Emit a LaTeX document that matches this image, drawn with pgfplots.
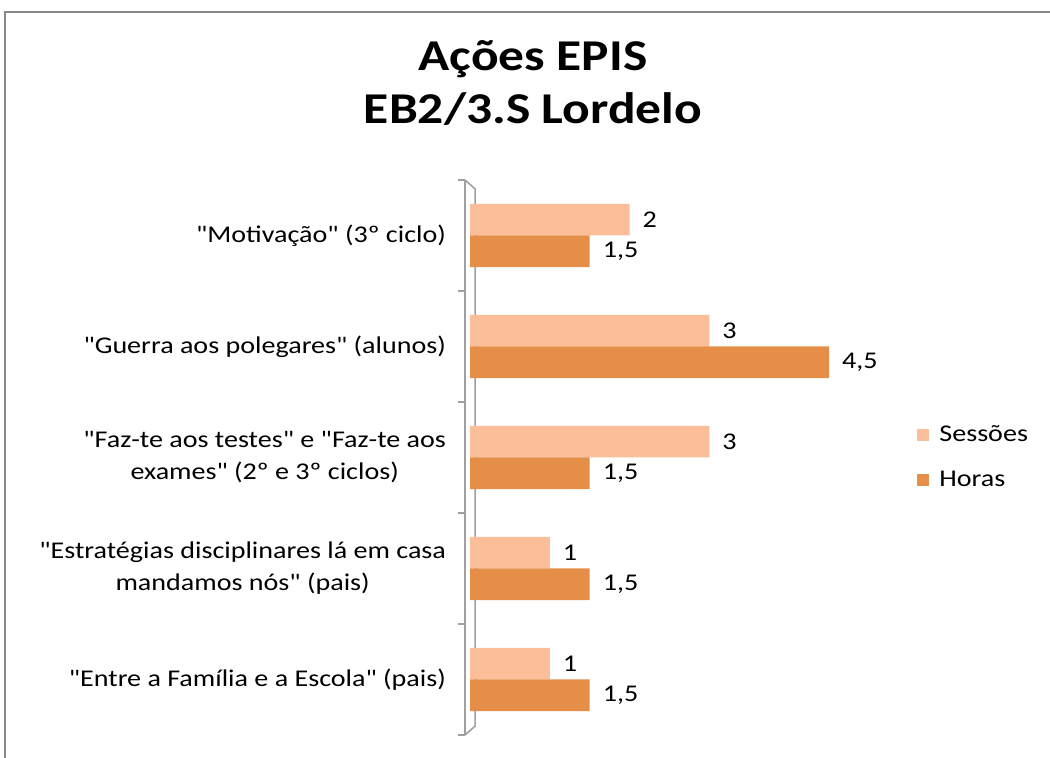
\documentclass[border=0pt]{standalone}
\usepackage{pgfplots}
\pgfplotsset{compat=1.18}
\usepackage{fontspec}
\setmainfont{Carlito}[FakeStretch=1.17, Ligatures=TeXOff]
\definecolor{sess}{HTML}{FBBE98}
\definecolor{hor}{HTML}{E58E48}
\definecolor{framegray}{HTML}{888888}
\definecolor{axgray}{HTML}{A0A0A0}
\begin{document}
\begin{tikzpicture}
\path[use as bounding box] (0pt,0pt) rectangle (525pt,379pt);
\draw[framegray, line width=1pt] (2.5pt,0pt) -- (2.5pt,373pt) -- (525pt,373pt);
\node[align=center, font=\fontsize{22}{26.5}\selectfont\bfseries] at (266.5pt,337.5pt) {Ações EPIS\\EB2/3.S Lordelo};
\begin{axis}[
  at={(232.5pt,11.5pt)}, anchor=south west,
  scale only axis, width=198pt, height=277.5pt,
  xbar=0pt, bar width=0.284,
  xmin=-0.063, xmax=4.9, ymin=-0.5, ymax=4.5, y dir=reverse,
  axis x line=none, axis y line*=left,
  axis line style={axgray, line width=0.8pt},
  ytick={0,1,2,3,4},
  yticklabels={{"Motivação" (3º ciclo)},{"Guerra aos polegares" (alunos)},{"Faz-te aos testes" e "Faz-te aos\\exames" (2º e 3º ciclos)},{"Estratégias disciplinares lá em casa\\mandamos nós" (pais)},{"Entre a Família e a Escola" (pais)}},
  yticklabel style={align=center, font=\fontsize{12}{16}\selectfont, xshift=-6pt},
  major tick length=0pt,
  minor ytick={-0.5,0.5,1.5,2.5,3.5,4.5},
  minor tick length=3.5pt, tick align=outside,
  tick style={axgray, line width=0.8pt},
  clip=false,
  /pgf/number format/.cd, use comma, assume math mode=true, /pgfplots/.cd,
  nodes near coords={\pgfmathprintnumber{\pgfplotspointmeta}},
  nodes near coords style={font=\fontsize{12}{14}\selectfont, black, anchor=west, xshift=3pt},
  legend style={at={(1,0.5)}, anchor=west, xshift=25pt, draw=none, fill=none, row sep=9pt, font=\fontsize{12}{14}\selectfont, /tikz/every odd column/.append style={column sep=3pt}},
  legend cell align=left,
  legend image code/.code={\fill[#1] (0pt,-3pt) rectangle (6pt,3pt);},
]
\draw[axgray, line width=0.8pt] (axis cs:-0.063,-0.5) -- (axis cs:0.063,-0.42) -- (axis cs:0.063,4.42) -- (axis cs:-0.063,4.5);
\addplot[fill=sess, draw=none] coordinates {(2,0) (3,1) (3,2) (1,3) (1,4)};
\addplot[fill=hor, draw=none] coordinates {(1.5,0) (4.5,1) (1.5,2) (1.5,3) (1.5,4)};
\legend{Sessões, Horas}
\end{axis}
\end{tikzpicture}
\end{document}
